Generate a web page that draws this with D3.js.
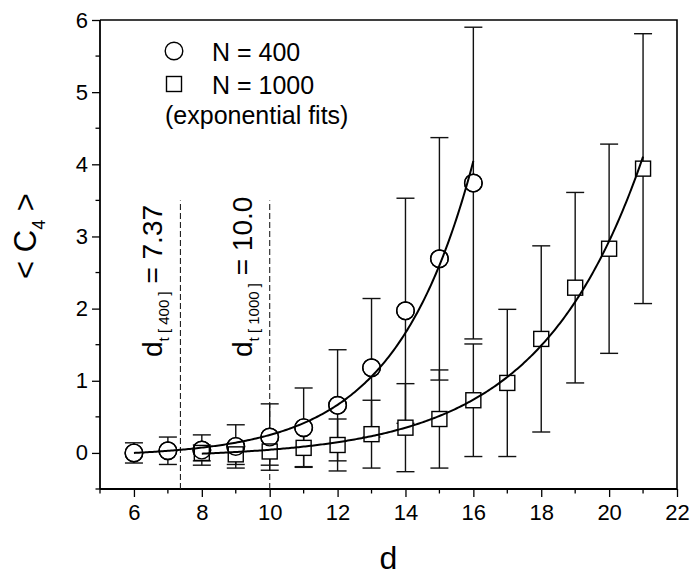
<!DOCTYPE html>
<html>
<head>
<meta charset="utf-8">
<script src="https://cdn.jsdelivr.net/npm/d3@7"></script>
<style>
  html, body { margin: 0; padding: 0; background: #fff; }
  svg { display: block; font-family: "Liberation Sans", Arial, Helvetica, sans-serif; }
</style>
</head>
<body>
<svg id="chart" width="691" height="575"></svg>
<script>
// ---- data ----
const d400 = [6, 7, 8, 9, 10, 11, 12, 13, 14, 15, 16];
const c400 = [0.00, 0.03, 0.04, 0.09, 0.22, 0.35, 0.66, 1.18, 1.97, 2.69, 3.74];
const e400 = [0.14, 0.19, 0.21, 0.30, 0.46, 0.55, 0.77, 0.96, 1.56, 1.68, 2.16];

const d1000 = [8, 9, 10, 11, 12, 13, 14, 15, 16, 17, 18, 19, 20, 21];
const c1000 = [0.00, -0.02, 0.02, 0.07, 0.11, 0.26, 0.35, 0.47, 0.73, 0.97, 1.58, 2.29, 2.83, 3.94];
const e1000 = [0.11, 0.14, 0.19, 0.26, 0.36, 0.47, 0.61, 0.68, 0.78, 1.02, 1.29, 1.32, 1.45, 1.87];

// exponential fits: y = y0 + A * exp((d - d0) / t)
const fit400  = { y0: -0.053, A: 0.053, d0: 6, t: 2.30, from: 6, to: 16 };
const fit1000 = { y0: -0.068, A: 0.058, d0: 8, t: 3.04, from: 8, to: 21 };

const thresholds = [
  { d: 7.37, sub: "t [ 400 ]", val: " = 7.37" },
  { d: 10.0, sub: "t [ 1000 ]", val: " = 10.0" }
];
const thresholdTop = 3.5;

const xMajor = [6, 8, 10, 12, 14, 16, 18, 20, 22];
const xMinor = [5, 7, 9, 11, 13, 15, 17, 19, 21];
const yMajor = [0, 1, 2, 3, 4, 5, 6];
const yMinor = [-0.5, 0.5, 1.5, 2.5, 3.5, 4.5, 5.5];

const legendItems = [
  { sym: "circle", label: "N = 400" },
  { sym: "square", label: "N = 1000" }
];
const legendNote = "(exponential fits)";

// ---- layout ----
const svg = d3.select("#chart");
const L = 100, R = 677, T = 20, B = 489;
const x = d3.scaleLinear().domain([5, 22]).range([L, R]);
const y = d3.scaleLinear().domain([-0.5, 6]).range([B, T]);

const ink = "#000";

// frame (top, right)
svg.append("path")
  .attr("d", `M${L},${T}H${R}V${B}`)
  .attr("fill", "none").attr("stroke", ink).attr("stroke-width", 1.6);

// bottom axis
const gx = svg.append("g").attr("transform", `translate(0,${B})`);
gx.call(d3.axisBottom(x).tickValues(xMajor).tickSize(8).tickPadding(7).tickFormat(d3.format("d")));
gx.append("g").selectAll("line").data(xMinor).join("line")
  .attr("x1", d => x(d)).attr("x2", d => x(d)).attr("y1", 0).attr("y2", 4.5)
  .attr("stroke", ink).attr("stroke-width", 1.3);

// left axis
const gy = svg.append("g").attr("transform", `translate(${L},0)`);
gy.call(d3.axisLeft(y).tickValues(yMajor).tickSize(8).tickPadding(4).tickFormat(d3.format("d")));
gy.append("g").selectAll("line").data(yMinor).join("line")
  .attr("y1", d => y(d)).attr("y2", d => y(d)).attr("x1", 0).attr("x2", -4.5)
  .attr("stroke", ink).attr("stroke-width", 1.3);

[gx, gy].forEach(g => {
  g.select(".domain").attr("stroke", ink).attr("stroke-width", 1.8);
  g.selectAll(".tick line").attr("stroke", ink).attr("stroke-width", 1.3);
  g.selectAll(".tick text").attr("fill", ink).style("font-size", "22px")
    .style("font-family", "Liberation Sans, Arial, sans-serif");
});
gx.select(".domain").attr("d", `M${L},0H${R}`);
gy.select(".domain").attr("d", `M0,${B}V${T}`);

// axis titles
svg.append("text")
  .attr("x", (L + R) / 2).attr("y", 569)
  .attr("text-anchor", "middle").attr("font-size", 32).attr("fill", ink)
  .text("d");

const yt = svg.append("text")
  .attr("transform", `translate(36,236) rotate(-90)`)
  .attr("text-anchor", "middle").attr("font-size", 31).attr("fill", ink);
yt.append("tspan").text("< C");
yt.append("tspan").attr("font-size", 18).attr("dy", 9).text("4");
yt.append("tspan").attr("dy", -9).text(" >");

// threshold dashed lines and rotated labels
thresholds.forEach(th => {
  svg.append("line")
    .attr("x1", x(th.d)).attr("x2", x(th.d))
    .attr("y1", y(-0.5)).attr("y2", y(thresholdTop))
    .attr("stroke", "#222").attr("stroke-width", 1.1)
    .attr("stroke-dasharray", "6,3");
  const t = svg.append("text")
    .attr("transform", `translate(${x(th.d) - 18},357) rotate(-90)`)
    .attr("text-anchor", "start").attr("font-size", 28).attr("fill", ink);
  t.append("tspan").text("d");
  t.append("tspan").attr("font-size", 15).attr("dy", 7).text(th.sub);
  t.append("tspan").attr("dy", -7).text(th.val);
});

// error bars
function errorBars(ds, cs, es) {
  const g = svg.append("g").attr("stroke", "#111").attr("stroke-width", 1.4).attr("fill", "none");
  ds.forEach((d, i) => {
    const xi = x(d), lo = y(cs[i] - es[i]), hi = y(cs[i] + es[i]);
    g.append("line").attr("x1", xi).attr("x2", xi).attr("y1", lo).attr("y2", hi);
    g.append("line").attr("x1", xi - 9).attr("x2", xi + 9).attr("y1", lo).attr("y2", lo);
    g.append("line").attr("x1", xi - 9).attr("x2", xi + 9).attr("y1", hi).attr("y2", hi);
  });
}
errorBars(d400, c400, e400);
errorBars(d1000, c1000, e1000);

// markers
const circR = 8.8, sq = 15;
svg.append("g").selectAll("circle").data(d400).join("circle")
  .attr("cx", d => x(d)).attr("cy", (d, i) => y(c400[i])).attr("r", circR)
  .attr("fill", "#fff").attr("stroke", ink).attr("stroke-width", 1.4);
svg.append("g").selectAll("rect").data(d1000).join("rect")
  .attr("x", d => x(d) - sq / 2).attr("y", (d, i) => y(c1000[i]) - sq / 2)
  .attr("width", sq).attr("height", sq)
  .attr("fill", "#fff").attr("stroke", ink).attr("stroke-width", 1.4);
svg.append("g").selectAll("circle").data(d400).join("circle")
  .attr("cx", d => x(d)).attr("cy", (d, i) => y(c400[i])).attr("r", circR)
  .attr("fill", "none").attr("stroke", ink).attr("stroke-width", 1.4);

// fit curves
function fitCurve(f) {
  const pts = d3.range(f.from, f.to + 1e-9, 0.05).map(d => [d, f.y0 + f.A * Math.exp((d - f.d0) / f.t)]);
  svg.append("path")
    .attr("d", d3.line().x(p => x(p[0])).y(p => y(p[1]))(pts))
    .attr("fill", "none").attr("stroke", ink).attr("stroke-width", 2);
}
fitCurve(fit400);
fitCurve(fit1000);

// legend
const lg = svg.append("g");
legendItems.forEach((it, i) => {
  const cy = 51 + i * 33;
  if (it.sym === "circle") {
    lg.append("circle").attr("cx", 174).attr("cy", cy).attr("r", circR)
      .attr("fill", "#fff").attr("stroke", ink).attr("stroke-width", 1.4);
  } else {
    lg.append("rect").attr("x", 174 - sq / 2).attr("y", cy - sq / 2).attr("width", sq).attr("height", sq)
      .attr("fill", "#fff").attr("stroke", ink).attr("stroke-width", 1.4);
  }
  lg.append("text").attr("x", 212).attr("y", cy + 9.5)
    .attr("font-size", 25).attr("fill", ink).text(it.label);
});
lg.append("text").attr("x", 165).attr("y", 124)
  .attr("font-size", 25).attr("fill", ink).text(legendNote);
</script>
</body>
</html>
